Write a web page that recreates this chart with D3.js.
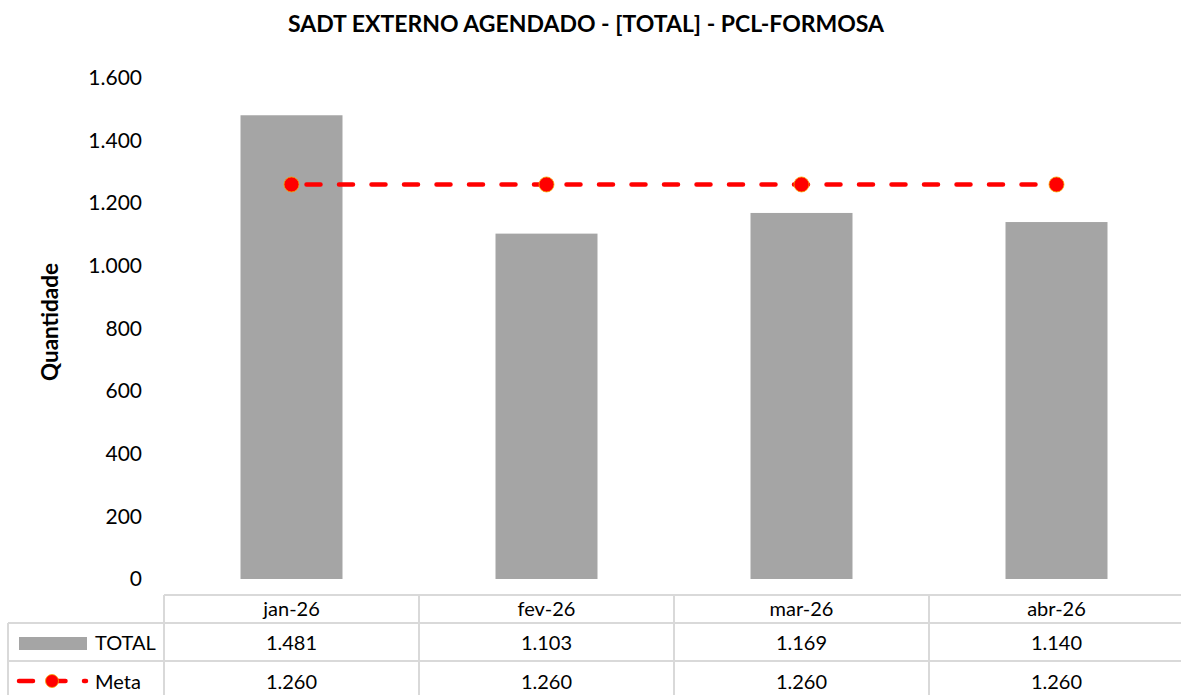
<!DOCTYPE html>
<html>
<head>
<meta charset="utf-8">
<script src="https://cdn.jsdelivr.net/npm/d3@7"></script>
<style>
  html, body { margin: 0; padding: 0; background: #ffffff; }
  svg { display: block; font-family: Lato, "Open Sans", sans-serif; }
</style>
</head>
<body>
<svg id="chart" width="1181" height="695"></svg>
<script>
// Monthly scheduled external SADT exams versus target
const categories = ["jan-26", "fev-26", "mar-26", "abr-26"];
const totalValues = [1481, 1103, 1169, 1140];
const metaValues = [1260, 1260, 1260, 1260];
const yTicks = [0, 200, 400, 600, 800, 1000, 1200, 1400, 1600];
const seriesNames = ["TOTAL", "Meta"];
const chartTitle = "SADT EXTERNO AGENDADO - [TOTAL] - PCL-FORMOSA";
const yTitle = "Quantidade";

const W = 1181, H = 695;
const plotLeft = 164, plotRight = 1184, plotTop = 78, plotBottom = 579;
const barColor = "#a5a5a5", metaColor = "#ff0000", gridColor = "#d9d9d9";

const ptBR = d3.formatLocale({ decimal: ",", thousands: ".", grouping: [3], currency: ["R$", ""] });
const fmt = ptBR.format(",d");

const svg = d3.select("#chart");

const x = d3.scaleBand()
  .domain(categories)
  .range([plotLeft, plotRight])
  .paddingInner(0.6)
  .paddingOuter(0.3);
const step = x.step();
const cx = c => x(c) + x.bandwidth() / 2;

const y = d3.scaleLinear().domain([0, 1600]).range([plotBottom, plotTop]);

// Title
svg.append("text")
  .attr("x", 586).attr("y", 32)
  .attr("text-anchor", "middle")
  .attr("font-weight", "bold")
  .attr("font-size", 23)
  .attr("fill", "#000")
  .text(chartTitle);

// Y axis (labels only)
const yAxis = d3.axisLeft(y).tickValues(yTicks).tickFormat(fmt).tickSize(0).tickPadding(0);
const gy = svg.append("g").attr("transform", `translate(142,0)`).call(yAxis);
gy.select(".domain").remove();
gy.selectAll("text")
  .attr("font-family", "Lato, 'Open Sans', sans-serif")
  .attr("font-size", 21)
  .attr("fill", "#000");

svg.append("text")
  .attr("transform", `translate(58,322) rotate(-90)`)
  .attr("text-anchor", "middle")
  .attr("font-weight", "bold")
  .attr("font-size", 22.5)
  .attr("fill", "#000")
  .text(yTitle);

// Bars
svg.append("g").selectAll("rect")
  .data(categories)
  .join("rect")
  .attr("x", d => x(d))
  .attr("width", x.bandwidth())
  .attr("y", (d, i) => y(totalValues[i]))
  .attr("height", (d, i) => y(0) - y(totalValues[i]))
  .attr("fill", barColor);

// Target line with markers
const line = d3.line().x((d, i) => cx(categories[i])).y(d => y(d));
svg.append("path")
  .datum(metaValues)
  .attr("d", line)
  .attr("fill", "none")
  .attr("stroke", metaColor)
  .attr("stroke-width", 4.5)
  .attr("stroke-linecap", "round")
  .attr("stroke-dasharray", "14,18.5")
  .attr("stroke-dashoffset", -15);
svg.append("g").selectAll("circle")
  .data(metaValues)
  .join("circle")
  .attr("cx", (d, i) => cx(categories[i]))
  .attr("cy", d => y(d))
  .attr("r", 7.5)
  .attr("fill", metaColor)
  .attr("stroke", "#f7a500")
  .attr("stroke-width", 0.8);

// Data table under the plot
const rowTop = [595, 623, 661], rowBottom = 697;
const table = svg.append("g").attr("stroke", gridColor).attr("stroke-width", 2);
table.append("line").attr("x1", plotLeft).attr("x2", W).attr("y1", rowTop[0]).attr("y2", rowTop[0]);
table.append("line").attr("x1", 8).attr("x2", W).attr("y1", rowTop[1]).attr("y2", rowTop[1]);
table.append("line").attr("x1", 8).attr("x2", W).attr("y1", rowTop[2]).attr("y2", rowTop[2]);
table.append("line").attr("x1", 8).attr("x2", 8).attr("y1", rowTop[1]).attr("y2", rowBottom);
table.selectAll(".col")
  .data(categories)
  .join("line")
  .attr("class", "col")
  .attr("x1", d => x(d) - step * 0.3)
  .attr("x2", d => x(d) - step * 0.3)
  .attr("y1", rowTop[0])
  .attr("y2", rowBottom);

const cellFont = 20;
const tableText = svg.append("g")
  .attr("font-size", cellFont)
  .attr("fill", "#000")
  .attr("text-anchor", "middle");

tableText.selectAll(".hdr")
  .data(categories)
  .join("text")
  .attr("class", "hdr")
  .attr("x", d => cx(d))
  .attr("y", 616)
  .text(d => d);

tableText.selectAll(".tot")
  .data(totalValues)
  .join("text")
  .attr("class", "tot")
  .attr("x", (d, i) => cx(categories[i]))
  .attr("y", 650)
  .text(d => fmt(d));

tableText.selectAll(".meta")
  .data(metaValues)
  .join("text")
  .attr("class", "meta")
  .attr("x", (d, i) => cx(categories[i]))
  .attr("y", 689)
  .text(d => fmt(d));

// Legend keys in the first column
svg.append("rect")
  .attr("x", 19).attr("y", 637).attr("width", 68).attr("height", 13)
  .attr("fill", barColor);
svg.append("text")
  .attr("x", 95).attr("y", 650)
  .attr("font-size", cellFont).attr("fill", "#000")
  .text(seriesNames[0]);

svg.append("line")
  .attr("x1", 19).attr("x2", 86).attr("y1", 681).attr("y2", 681)
  .attr("stroke", metaColor)
  .attr("stroke-width", 4.5)
  .attr("stroke-linecap", "round")
  .attr("stroke-dasharray", "14,18.5");
svg.append("circle")
  .attr("cx", 52).attr("cy", 681).attr("r", 6.5)
  .attr("fill", metaColor)
  .attr("stroke", "#f7a500")
  .attr("stroke-width", 0.8);
svg.append("text")
  .attr("x", 95).attr("y", 689)
  .attr("font-size", cellFont).attr("fill", "#000")
  .text(seriesNames[1]);
</script>
</body>
</html>
